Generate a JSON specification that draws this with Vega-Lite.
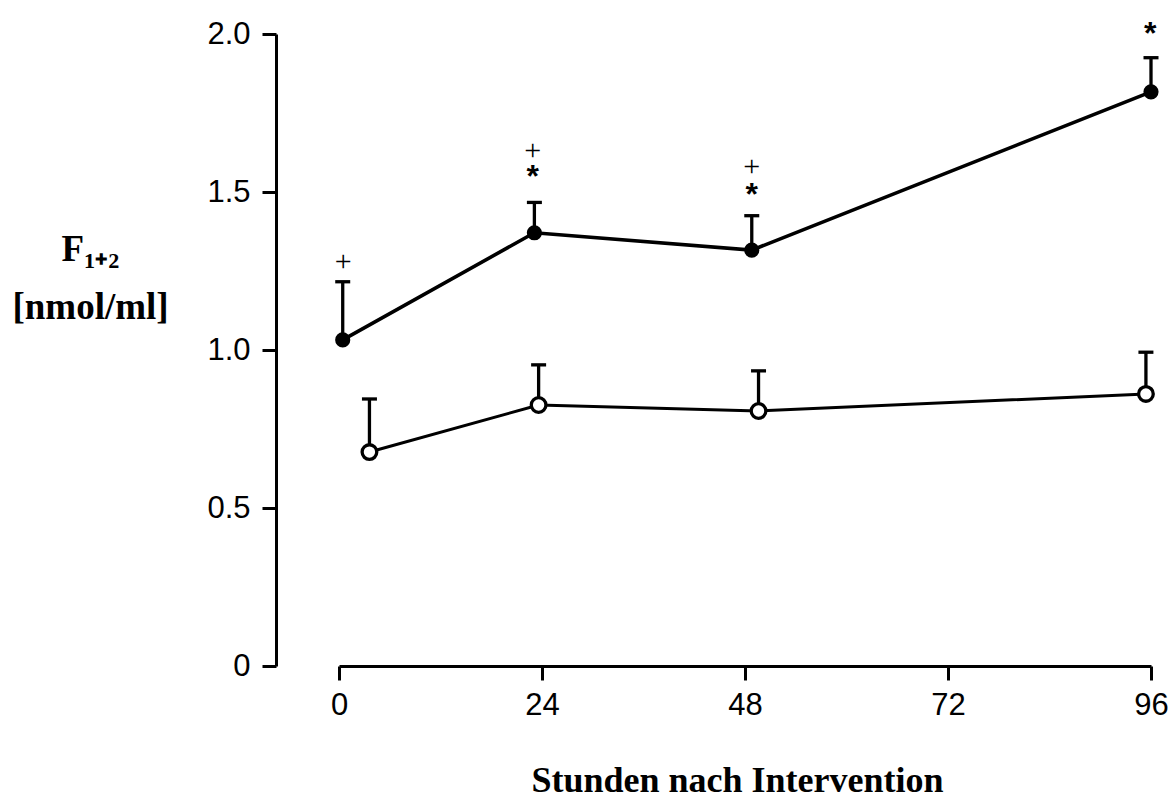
{
  "$schema": "https://vega.github.io/schema/vega-lite/v6.json",
  "width": 812,
  "height": 632,
  "autosize": {"type": "none"},
  "padding": {"left": 339, "top": 34, "right": 23, "bottom": 141},
  "background": "white",
  "config": {"view": {"stroke": null}},
  "datasets": {
    "means": [
      {"group": "filled", "hour": 0.44, "mean": 1.032, "upper": 1.216},
      {"group": "filled", "hour": 23.1, "mean": 1.371, "upper": 1.467},
      {"group": "filled", "hour": 48.8, "mean": 1.316, "upper": 1.425},
      {"group": "filled", "hour": 96, "mean": 1.817, "upper": 1.925},
      {"group": "open", "hour": 3.6, "mean": 0.677, "upper": 0.845},
      {"group": "open", "hour": 23.6, "mean": 0.826, "upper": 0.953},
      {"group": "open", "hour": 49.6, "mean": 0.807, "upper": 0.934},
      {"group": "open", "hour": 95.4, "mean": 0.861, "upper": 0.993}
    ],
    "notes": [
      {"hour": 0.5, "mean": 1.278, "sym": "+"},
      {"hour": 22.9, "mean": 1.63, "sym": "+"},
      {"hour": 48.8, "mean": 1.579, "sym": "+"},
      {"hour": 22.9, "mean": 1.549, "sym": "*"},
      {"hour": 48.8, "mean": 1.491, "sym": "*"},
      {"hour": 95.9, "mean": 1.999, "sym": "*"}
    ]
  },
  "layer": [
    {
      "data": {"name": "means"},
      "mark": {"type": "rule", "color": "black", "strokeWidth": 3.3},
      "encoding": {
        "x": {
          "field": "hour", "type": "quantitative",
          "scale": {"domain": [0, 96], "nice": false, "zero": false},
          "axis": {
            "values": [0, 24, 48, 72, 96],
            "grid": false,
            "domainColor": "black", "domainWidth": 3,
            "tickColor": "black", "tickWidth": 3, "tickSize": 14,
            "labelFont": "Liberation Sans", "labelFontSize": 31, "labelColor": "black",
            "labelPadding": 10, "labelFlush": false,
            "title": "Stunden nach Intervention",
            "titleFont": "Liberation Serif", "titleFontWeight": "bold", "titleFontSize": 36,
            "titleColor": "black", "titleX": 398, "titleY": 114, "titleBaseline": "middle"
          }
        },
        "y": {
          "field": "mean", "type": "quantitative",
          "scale": {"domain": [0, 2], "nice": false},
          "axis": {
            "values": [0, 0.5, 1, 1.5, 2],
            "labelExpr": "datum.value == 0 ? '0' : format(datum.value, '.1f')",
            "grid": false, "offset": 63,
            "domainColor": "black", "domainWidth": 3,
            "tickColor": "black", "tickWidth": 3, "tickSize": 14,
            "labelFont": "Liberation Sans", "labelFontSize": 31, "labelColor": "black",
            "labelPadding": 12,
            "title": ["F₁₊₂", "[nmol/ml]"],
            "titleFont": "Liberation Serif", "titleFontWeight": "bold", "titleFontSize": 37,
            "titleColor": "black", "titleAngle": 0, "titleAlign": "center",
            "titleBaseline": "alphabetic", "titleX": -186, "titleY": 226, "titleLineHeight": 58
          }
        },
        "y2": {"field": "upper"}
      }
    },
    {
      "data": {"name": "means"},
      "mark": {"type": "tick", "orient": "horizontal", "color": "black", "opacity": 1, "size": 15, "thickness": 3.3},
      "encoding": {
        "x": {"field": "hour", "type": "quantitative"},
        "y": {"field": "upper", "type": "quantitative"}
      }
    },
    {
      "data": {"name": "means"},
      "transform": [{"filter": "datum.group == 'filled'"}],
      "mark": {"type": "line", "color": "black", "strokeWidth": 3.6},
      "encoding": {
        "x": {"field": "hour", "type": "quantitative"},
        "y": {"field": "mean", "type": "quantitative"}
      }
    },
    {
      "data": {"name": "means"},
      "transform": [{"filter": "datum.group == 'open'"}],
      "mark": {"type": "line", "color": "black", "strokeWidth": 3},
      "encoding": {
        "x": {"field": "hour", "type": "quantitative"},
        "y": {"field": "mean", "type": "quantitative"}
      }
    },
    {
      "data": {"name": "means"},
      "transform": [{"filter": "datum.group == 'filled'"}],
      "mark": {"type": "point", "shape": "circle", "filled": true, "fill": "black", "stroke": null, "size": 230, "opacity": 1},
      "encoding": {
        "x": {"field": "hour", "type": "quantitative"},
        "y": {"field": "mean", "type": "quantitative"}
      }
    },
    {
      "data": {"name": "means"},
      "transform": [{"filter": "datum.group == 'open'"}],
      "mark": {"type": "point", "shape": "circle", "filled": false, "fill": "white", "fillOpacity": 1, "stroke": "black", "strokeWidth": 3.3, "size": 215, "opacity": 1},
      "encoding": {
        "x": {"field": "hour", "type": "quantitative"},
        "y": {"field": "mean", "type": "quantitative"}
      }
    },
    {
      "data": {"name": "notes"},
      "transform": [{"filter": "datum.sym == '+'"}],
      "mark": {"type": "text", "font": "Liberation Serif", "fontSize": 30, "color": "black", "baseline": "middle", "align": "center"},
      "encoding": {
        "x": {"field": "hour", "type": "quantitative"},
        "y": {"field": "mean", "type": "quantitative"},
        "text": {"field": "sym"}
      }
    },
    {
      "data": {"name": "notes"},
      "transform": [{"filter": "datum.sym == '*'"}],
      "mark": {"type": "text", "font": "Liberation Sans", "fontSize": 32, "fontWeight": "bold", "color": "black", "baseline": "middle", "align": "center"},
      "encoding": {
        "x": {"field": "hour", "type": "quantitative"},
        "y": {"field": "mean", "type": "quantitative"},
        "text": {"field": "sym"}
      }
    }
  ]
}
